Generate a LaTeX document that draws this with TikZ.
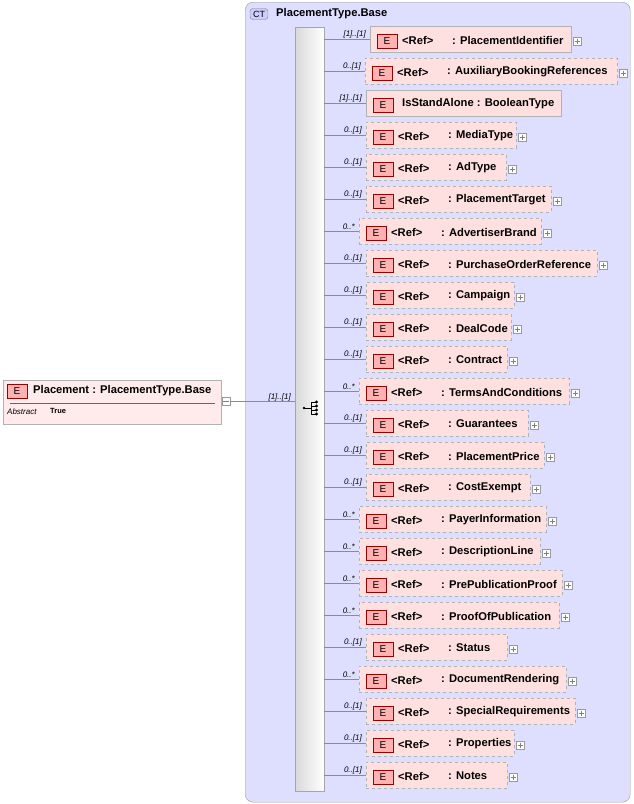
\documentclass[tikz,border=0pt]{standalone}
\usepackage{fontspec}
\setmainfont{Liberation Sans}
\begin{document}
\begin{tikzpicture}[x=1pt,y=-1pt,
  elbox/.style={draw=black!30,fill=red!12,minimum height=26pt,anchor=west,inner sep=0pt},
  icon/.style={draw=red!60!black,fill=red!30,minimum width=20pt,minimum height=14pt,inner sep=0pt,font=\fontsize{10}{11}\selectfont},
  txt/.style={anchor=west,inner sep=0pt,font=\fontsize{11.2}{12}\selectfont\bfseries},
  mult/.style={anchor=south east,inner sep=1pt,font=\fontsize{8}{9}\selectfont\itshape},
  pl/.style={draw=black!40,fill=white,minimum size=8pt,inner sep=0pt},
  conn/.style={draw=black!45}]
\useasboundingbox (0,0) rectangle (634,804);
\node[draw=black!40,fill=blue!13,rounded corners=8pt,minimum width=385pt,minimum height=800pt,anchor=north west,inner sep=0pt] (ct) at (245,2) {};
\node[draw=black!50,fill=blue!20,rounded corners=3pt,minimum width=18pt,minimum height=11pt,inner sep=0pt,font=\fontsize{9}{10}\selectfont] (cti) at (259,14) {CT};
\node[txt] (ctt) at (276,14) {PlacementType.Base};
\shade[left color=black!15,right color=white,draw=black!35] (295,27) rectangle (324,791);
\node[minimum width=29pt,minimum height=764pt,anchor=north west,inner sep=0pt] (seq) at (295,27) {};
% sequence icon
\fill (304,408) circle (1.4pt);
\draw[line width=0.8pt] (304,408)--(311,408) (311,402)--(311,414);
\foreach \yy in {402,406,410,414} {\draw[line width=0.8pt] (311,\yy)--(316,\yy); \fill (316.5,\yy) circle (1.6pt);}
% Placement
\node[draw=black!30,fill=red!8,minimum width=218pt,minimum height=44pt,anchor=north west,inner sep=0pt] (pl0) at (3,380) {};
\draw[black!60] (10,403)--(215,403);
\node[icon] (pi) at (17,391) {E};
\node[txt] at (33,391) {Placement : PlacementType.Base};
\node[anchor=west,inner sep=0pt,font=\fontsize{8}{9}\selectfont\itshape] at (7,412) {Abstract};
\node[anchor=west,inner sep=0pt,font=\fontsize{7.5}{8}\selectfont\bfseries] at (50,411) {True};
\node[pl] (pm) at (226,401) {}; \draw[black!50] (223,401)--(229,401);
\draw[conn] (pm.east)--(295,401);
\node[mult] at (292,402) {[1]..[1]};
\foreach \i/\m/\dsh/\xa/\xb/\r/\nm/\pls in {
 1/{[1]..[1]}/solid/370/571/{<Ref>}/{: PlacementIdentifier}/1,
 2/{0..[1]}/dashed/365/617/{<Ref>}/{: AuxiliaryBookingReferences}/1,
 3/{[1]..[1]}/solid/366/561/{IsStandAlone}/{: BooleanType}/0,
 4/{0..[1]}/dashed/366/516/{<Ref>}/{: MediaType}/1,
 5/{0..[1]}/dashed/366/506/{<Ref>}/{: AdType}/1,
 6/{0..[1]}/dashed/366/551/{<Ref>}/{: PlacementTarget}/1,
 7/{0..*}/dashed/359/541/{<Ref>}/{: AdvertiserBrand}/1,
 8/{0..[1]}/dashed/366/597/{<Ref>}/{: PurchaseOrderReference}/1,
 9/{0..[1]}/dashed/366/514/{<Ref>}/{: Campaign}/1,
 10/{0..[1]}/dashed/366/511/{<Ref>}/{: DealCode}/1,
 11/{0..[1]}/dashed/366/507/{<Ref>}/{: Contract}/1,
 12/{0..*}/dashed/359/569/{<Ref>}/{: TermsAndConditions}/1,
 13/{0..[1]}/dashed/366/528/{<Ref>}/{: Guarantees}/1,
 14/{0..[1]}/dashed/366/544/{<Ref>}/{: PlacementPrice}/1,
 15/{0..[1]}/dashed/366/530/{<Ref>}/{: CostExempt}/1,
 16/{0..*}/dashed/359/546/{<Ref>}/{: PayerInformation}/1,
 17/{0..*}/dashed/359/540/{<Ref>}/{: DescriptionLine}/1,
 18/{0..*}/dashed/359/562/{<Ref>}/{: PrePublicationProof}/1,
 19/{0..*}/dashed/359/559/{<Ref>}/{: ProofOfPublication}/1,
 20/{0..[1]}/dashed/366/507/{<Ref>}/{: Status}/1,
 21/{0..*}/dashed/359/566/{<Ref>}/{: DocumentRendering}/1,
 22/{0..[1]}/dashed/366/575/{<Ref>}/{: SpecialRequirements}/1,
 23/{0..[1]}/dashed/366/514/{<Ref>}/{: Properties}/1,
 24/{0..[1]}/dashed/366/507/{<Ref>}/{: Notes}/1}{
 \pgfmathsetmacro{\yy}{39+32*(\i-1)}
 \pgfmathsetmacro{\ww}{\xb-\xa}
 \node[elbox,\dsh,minimum width=\ww pt] (b\i) at (\xa,\yy) {};
 \node[icon] (e\i) at (\xa+17,\yy+2) {E};
 \ifnum\i=3
   \node[txt] at (\xa+36,\yy+1) {\r\ \nm};
 \else
   \node[txt] at (\xa+32,\yy+1) {\r};
   \node[txt] at (\xa+82,\yy+1) {\nm};
 \fi
 \ifnum\pls=1
   \node[pl] (p\i) at (\xb+6,\yy+2) {};
   \draw[black!50] (\xb+3.5,\yy+2)--(\xb+8.5,\yy+2) (\xb+6,\yy-0.5)--(\xb+6,\yy+4.5);
 \fi
 \draw[conn] (seq.east |- b\i.west)--(b\i.west);
 \node[mult] at (\xa-3,\yy) {\m};
}
\end{tikzpicture}
\end{document}
